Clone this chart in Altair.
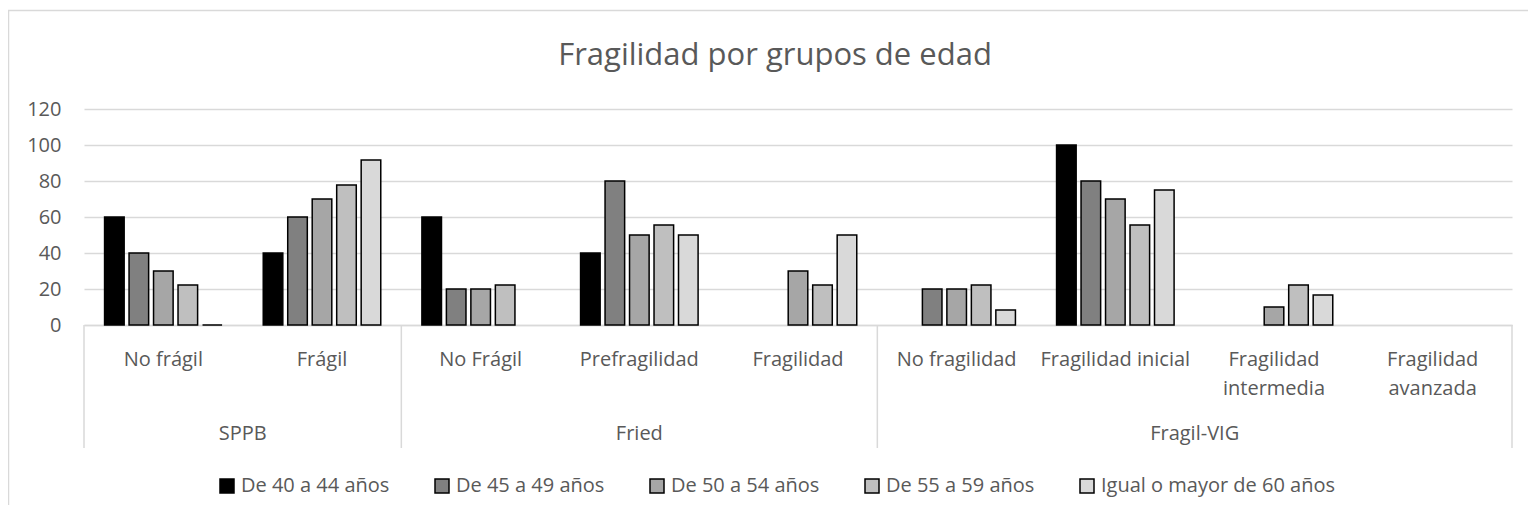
import altair as alt
import pandas as pd

# ---- data ----
groups = ["SPPB", "Fried", "Fragil-VIG"]
group_sizes = [2, 3, 4]
subcats = ["No frágil", "Frágil",
           "No Frágil", "Prefragilidad", "Fragilidad",
           "No fragilidad", "Fragilidad inicial", "Fragilidad intermedia", "Fragilidad avanzada"]
series = ["De 40 a 44 años", "De 45 a 49 años", "De 50 a 54 años",
          "De 55 a 59 años", "Igual o mayor de 60 años"]
grays = ["#000000", "#808080", "#A6A6A6", "#BFBFBF", "#D9D9D9"]

v_40_44 = [60, 40, 60, 40, None, None, 100, None, None]
v_45_49 = [40, 60, 20, 80, None, 20, 80, None, None]
v_50_54 = [30, 70, 20, 50, 30, 20, 70, 10, None]
v_55_59 = [22.2, 77.8, 22.2, 55.6, 22.2, 22.2, 55.6, 22.2, None]
v_60 = [0, 91.7, None, 50, 50, 8.3, 75, 16.7, None]
values = [v_40_44, v_45_49, v_50_54, v_55_59, v_60]

rows = []
for s, vals in zip(series, values):
    for c, v in zip(subcats, vals):
        if v is not None:
            rows.append({"sub": c, "serie": s, "valor": v})
df = pd.DataFrame(rows)

# group helper tables (built from the lists above)
starts, even_lab, odd_lab = [], [], []
i = 0
for g, n in zip(groups, group_sizes):
    starts.append({"sub": subcats[i]})
    anchor = {"sub": subcats[i + n // 2], "grupo": g}
    (even_lab if n % 2 == 0 else odd_lab).append(anchor)
    i += n
df_starts = pd.DataFrame(starts)
df_end = pd.DataFrame([{"sub": subcats[-1]}])
df_even = pd.DataFrame(even_lab)
df_odd = pd.DataFrame(odd_lab)

W, H = 1428, 216
FONT = "Open Sans"
TXT = "#595959"
GRID = "#D9D9D9"

xscale = alt.Scale(domain=subcats, paddingInner=0, paddingOuter=0)
xaxis = alt.Axis(labelAngle=0, ticks=False, grid=False,
                 domainColor=GRID, domainWidth=1.5,
                 labelFont=FONT, labelFontSize=20, labelColor=TXT,
                 labelBaseline="alphabetic", labelPadding=40,
                 labelLineHeight=29, labelLimit=300,
                 labelExpr="length(datum.label) > 18 ? split(datum.label, ' ') : datum.label")

bars = alt.Chart(df).mark_bar(stroke="black", strokeWidth=1.5).encode(
    x=alt.X("sub:N", scale=xscale, sort=subcats, title=None, axis=xaxis),
    xOffset=alt.XOffset("serie:N", scale=alt.Scale(domain=series, paddingInner=0.2, paddingOuter=0.84)),
    y=alt.Y("valor:Q", scale=alt.Scale(domain=[0, 120]), title=None,
            axis=alt.Axis(values=[0, 20, 40, 60, 80, 100, 120], ticks=False, domain=False,
                          gridColor=GRID, gridWidth=1.5,
                          labelFont=FONT, labelFontSize=20, labelColor=TXT,
                          labelPadding=23)),
    color=alt.Color("serie:N", scale=alt.Scale(domain=series, range=grays),
                    legend=alt.Legend(title=None, orient="none", legendX=133, legendY=367,
                                      direction="horizontal", columns=5,
                                      symbolType="square", symbolSize=196,
                                      symbolStrokeColor="black", symbolStrokeWidth=1.5,
                                      labelFont=FONT, labelFontSize=20, labelColor=TXT,
                                      labelOffset=4, columnPadding=42, labelLimit=400)),
)

sep = alt.Chart(df_starts).mark_rule(color=GRID, strokeWidth=1.5).encode(
    x=alt.X("sub:N", scale=xscale, sort=subcats, bandPosition=0, title=None, axis=xaxis),
    y=alt.value(H), y2=alt.value(H + 123))
sep_end = alt.Chart(df_end).mark_rule(color=GRID, strokeWidth=1.5).encode(
    x=alt.X("sub:N", scale=xscale, sort=subcats, bandPosition=1, title=None, axis=xaxis),
    y=alt.value(H), y2=alt.value(H + 123))

lab_even = alt.Chart(df_even).mark_text(font=FONT, fontSize=20, color=TXT,
                                        baseline="alphabetic", align="center").encode(
    x=alt.X("sub:N", scale=xscale, sort=subcats, bandPosition=0, title=None, axis=xaxis),
    y=alt.value(H + 115), text="grupo:N")
lab_odd = alt.Chart(df_odd).mark_text(font=FONT, fontSize=20, color=TXT,
                                      baseline="alphabetic", align="center").encode(
    x=alt.X("sub:N", scale=xscale, sort=subcats, bandPosition=0.5, title=None, axis=xaxis),
    y=alt.value(H + 115), text="grupo:N")

frame = alt.Chart(pd.DataFrame([{"k": 1}])).mark_rect(
    filled=False, stroke=GRID, strokeWidth=1.5).encode(
    x=alt.value(-75.5), x2=alt.value(W + 200), y=alt.value(-98.5), y2=alt.value(H + 400))

chart = alt.layer(bars, sep, sep_end, lab_even, lab_odd, frame).properties(
    width=W, height=H,
    title=alt.TitleParams("Fragilidad por grupos de edad", font=FONT, fontSize=31,
                          fontWeight="normal", color=TXT, anchor="middle", dx=-23,
                          baseline="alphabetic", offset=-86),
    autosize=alt.AutoSizeParams(type="none"),
    padding={"left": 76, "top": 101, "right": 16, "bottom": 180},
).configure_view(stroke=None)

chart.save("out.html", embed_options={"renderer": "svg", "actions": False})
